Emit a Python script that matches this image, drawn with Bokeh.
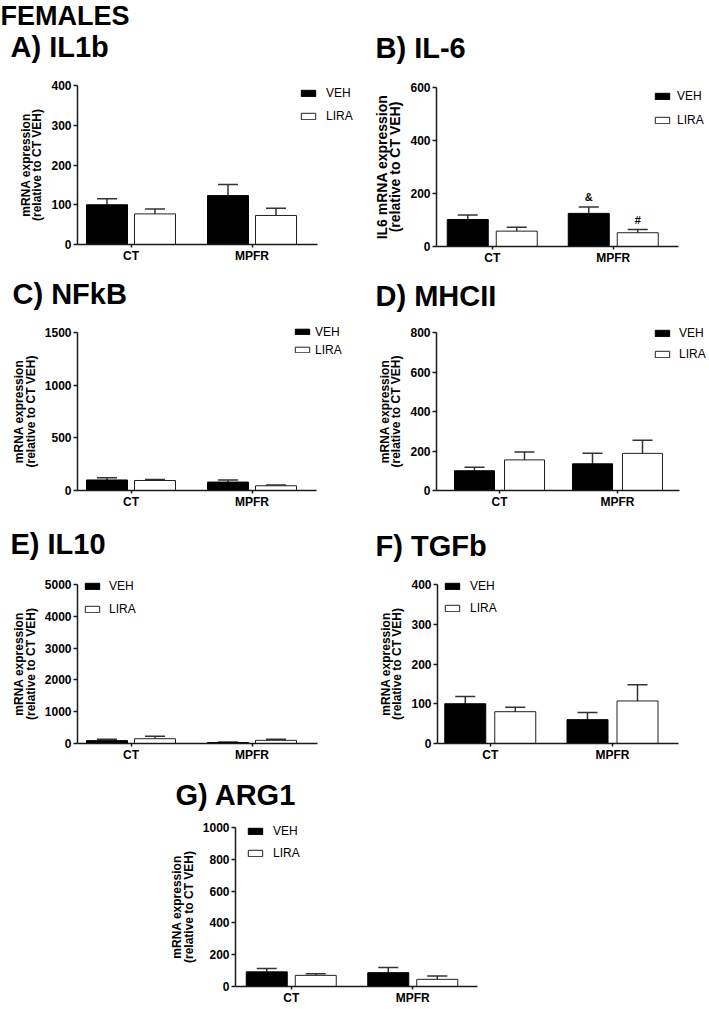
from bokeh.plotting import figure
from bokeh.models import (ColumnDataSource, Range1d, FixedTicker, Legend, LegendItem,
                          Whisker, TeeHead, Label, Spacer)
from bokeh.layouts import row, column
from bokeh.embed import file_html
from bokeh.resources import INLINE
from bokeh.core.properties import value

FONT = "Liberation Sans"

# ---------------- data ----------------
categories = ["CT", "MPFR"]
series = ["VEH", "LIRA"]

il1b_veh = [100, 123]
il1b_veh_err = [115, 151]
il1b_lira = [77, 73]
il1b_lira_err = [89, 91]

il6_veh = [102, 125]
il6_veh_err = [119, 149]
il6_lira = [58, 52]
il6_lira_err = [73, 64]
il6_veh_marks = ["", "&"]
il6_lira_marks = ["", "#"]

nfkb_veh = [100, 80]
nfkb_veh_err = [120, 100]
nfkb_lira = [95, 45]
nfkb_lira_err = [105, 52]

mhcii_veh = [100, 135]
mhcii_veh_err = [118, 189]
mhcii_lira = [155, 188]
mhcii_lira_err = [195, 255]

il10_veh = [90, 30]
il10_veh_err = [135, 45]
il10_lira = [150, 100]
il10_lira_err = [230, 135]

tgfb_veh = [100, 60]
tgfb_veh_err = [118, 78]
tgfb_lira = [80, 107]
tgfb_lira_err = [91, 148]

arg1_veh = [92, 87]
arg1_veh_err = [113, 120]
arg1_lira = [70, 45]
arg1_lira_err = [80, 66]

YLAB = "mRNA expression\n(relative to CT VEH)"
ITEM_H = 13.4   # rendered height of one legend row (12px text)


def make_panel(origin, size, frame, centers, off, bw, title, title_at, ylabel, ylab_size,
               ymax, ystep, veh, veh_e, lira, lira_e, leg_at, pitch, standoff, gh=8,
               marks=None, header=None):
    ox, oy = origin
    W, H = size
    L, R, T, B = frame
    unit = centers[1] - centers[0]          # px per category step
    yscale = (B - T) / ymax                 # px per value unit
    xs = -(centers[0] - ox) / unit
    xe = xs + W / unit
    ys = -(oy + H - B) / yscale
    ye = (B - oy) / yscale
    p = figure(width=W, height=H, x_range=Range1d(xs, xe), y_range=Range1d(ys, ye),
               output_backend="svg", toolbar_location=None,
               min_border_left=0, min_border_right=0, min_border_top=0, min_border_bottom=0)
    p.title.visible = False
    p.outline_line_color = None
    p.xgrid.visible = False
    p.ygrid.visible = False

    idx = list(range(len(categories)))
    xv = [i - off / unit for i in idx]
    xl = [i + off / unit for i in idx]
    dv = dict(x=xv, top=veh, err=veh_e)
    dl = dict(x=xl, top=lira, err=lira_e)
    if marks is not None:
        dv["mk"] = marks[0]
        dl["mk"] = marks[1]
    sv = ColumnDataSource(dv)
    sl = ColumnDataSource(dl)

    rv = p.vbar(x="x", top="top", bottom=0, width=bw / unit, source=sv,
                fill_color="black", line_color="black", line_width=1)
    rl = p.vbar(x="x", top="top", bottom=0, width=bw / unit, source=sl,
                fill_color="white", line_color="#222222", line_width=1)

    for s in (sv, sl):
        p.add_layout(Whisker(base="x", lower="top", upper="err", source=s, dimension="height",
                             line_color="#333333", line_width=1.5, lower_head=None,
                             upper_head=TeeHead(size=20, line_color="#333333", line_width=1.5)))
        if marks is not None:
            p.text(x="x", y="err", text="mk", source=s, y_offset=-4, text_align="center",
                   text_baseline="bottom", text_font=value(FONT), text_font_style="bold",
                   text_font_size="11px", text_color="black")

    # axes drawn at fixed positions inside the full-size frame
    xL = (L - centers[0]) / unit
    xR = (R - centers[0]) / unit
    p.xaxis.ticker = FixedTicker(ticks=idx)
    p.xaxis.major_label_overrides = {i: c for i, c in zip(idx, categories)}
    p.xaxis.fixed_location = 0
    p.xaxis.bounds = (xL, xR)
    p.yaxis.ticker = FixedTicker(ticks=list(range(0, ymax + 1, ystep)))
    p.yaxis.fixed_location = xL
    p.yaxis.bounds = (0, ymax)
    for ax in (p.xaxis[0], p.yaxis[0]):
        ax.axis_line_width = 1.5
        ax.axis_line_color = "#1a1a1a"
        ax.major_tick_line_width = 1.5
        ax.major_tick_line_color = "#1a1a1a"
        ax.major_tick_out = 4
        ax.major_tick_in = 0
        ax.minor_tick_line_color = None
        ax.major_label_text_font = FONT
        ax.major_label_text_font_style = "bold"
        ax.major_label_text_font_size = "12px"
        ax.major_label_text_color = "black"
        ax.major_label_standoff = 2
    p.xaxis.major_tick_out = 3
    p.xaxis.major_label_standoff = 1
    p.yaxis.axis_label = ylabel
    p.yaxis.axis_label_text_font = FONT
    p.yaxis.axis_label_text_font_style = "bold"
    p.yaxis.axis_label_text_font_size = ylab_size
    p.yaxis.axis_label_text_line_height = 0.85
    p.yaxis.axis_label_standoff = 4
    p.yaxis.axis_label_text_color = "black"

    # legend (location = bottom-left, measured from the frame's bottom-left)
    lx, ly = leg_at
    spacing = int(round(pitch - ITEM_H))
    leg_top = ly + gh / 2 - ITEM_H / 2
    leg_bottom = leg_top + 2 * ITEM_H + spacing
    leg = Legend(items=[LegendItem(label=series[0], renderers=[rv]),
                        LegendItem(label=series[1], renderers=[rl])],
                 location=(float(lx - ox), float((oy + H) - leg_bottom)),
                 glyph_width=18, glyph_height=gh, label_height=gh,
                 spacing=spacing, padding=0, margin=0, label_standoff=standoff,
                 border_line_color=None, background_fill_alpha=0,
                 label_text_font=FONT, label_text_font_size="12px",
                 label_text_baseline="middle", label_text_color="black")
    p.add_layout(leg)

    # titles (y = vertical centre of the capitals)
    tx, tc = title_at
    p.add_layout(Label(x=tx - ox, y=(oy + H) - tc, x_units="screen", y_units="screen", text=title,
                       text_font=FONT, text_font_style="bold", text_font_size="29px",
                       text_baseline="middle", text_align="left", text_color="black"))
    if header is not None:
        htxt, hx, hc = header
        p.add_layout(Label(x=hx - ox, y=(oy + H) - hc, x_units="screen", y_units="screen",
                           text=htxt, text_font=FONT, text_font_style="bold",
                           text_font_size="27px", text_baseline="middle",
                           text_align="left", text_color="black"))
    return p


pA = make_panel((0, 0), (358, 265), (77, 317, 85, 244), (130.5, 251.5), 24, 41,
                "A) IL1b", (10, 46), YLAB, "12px", 400, 100,
                il1b_veh, il1b_veh_err, il1b_lira, il1b_lira_err, (299, 90), 22, 9,
                header=("FEMALES", 0, 15))
pB = make_panel((358, 0), (351, 265), (436, 678, 87, 246), (491.75, 612.75), 24.5, 41,
                "B) IL-6", (375, 47), "IL6 mRNA expression\n(relative to CT VEH)", "14px", 600, 200,
                il6_veh, il6_veh_err, il6_lira, il6_lira_err, (653, 93), 23, 6,
                marks=(il6_veh_marks, il6_lira_marks))
pC = make_panel((0, 265), (358, 250), (77, 316, 332, 490), (130.5, 251.5), 24, 41,
                "C) NFkB", (12, 293), YLAB, "12px", 1500, 500,
                nfkb_veh, nfkb_veh_err, nfkb_lira, nfkb_lira_err, (293, 329), 17, 4, gh=7)
pD = make_panel((358, 265), (351, 250), (436, 679, 332, 490), (499, 617), 25, 40,
                "D) MHCII", (375, 295), YLAB, "12px", 800, 200,
                mhcii_veh, mhcii_veh_err, mhcii_lira, mhcii_lira_err, (653, 330), 20, 8)
pE = make_panel((0, 515), (358, 250), (77, 317, 584, 743), (130.5, 251.5), 24, 41,
                "E) IL10", (10, 543), YLAB, "12px", 5000, 1000,
                il10_veh, il10_veh_err, il10_lira, il10_lira_err, (83, 583), 22, 8)
pF = make_panel((358, 515), (351, 250), (437, 678, 584, 743), (489.75, 612), 25, 41,
                "F) TGFb", (375, 545), YLAB, "12px", 400, 100,
                tgfb_veh, tgfb_veh_err, tgfb_lira, tgfb_lira_err, (443, 583), 21, 9)
pG = make_panel((160, 765), (360, 240), (235, 477, 827, 986), (290.75, 412.25), 24.5, 41,
                "G) ARG1", (175, 794), YLAB, "12px", 1000, 200,
                arg1_veh, arg1_veh_err, arg1_lira, arg1_lira_err, (246, 828), 21, 9)

layout = column(row(pA, pB), row(pC, pD), row(pE, pF),
                row(Spacer(width=160, height=240), pG))

open("out.html", "w").write(file_html(layout, INLINE))
